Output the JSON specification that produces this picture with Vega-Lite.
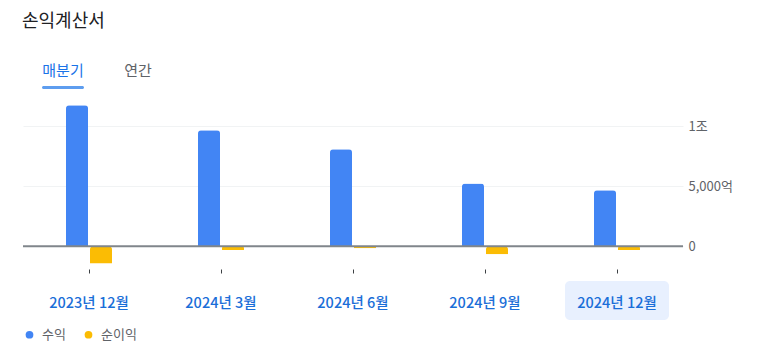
{
  "$schema": "https://vega.github.io/schema/vega-lite/v6.json",
  "background": "white",
  "padding": {"left": 22, "top": 13, "right": 0, "bottom": 0},
  "title": {
    "text": "손익계산서",
    "anchor": "start",
    "font": "Noto Sans CJK KR",
    "fontSize": 18,
    "fontWeight": "normal",
    "color": "#202124",
    "offset": 22
  },
  "config": {
    "font": "Noto Sans CJK KR",
    "view": {"stroke": null},
    "concat": {"spacing": 8}
  },
  "datasets": {
    "tabs": [
      {"tab": "매분기", "selected": true},
      {"tab": "연간", "selected": false}
    ],
    "income": [
      {"quarter": "2023년 12월", "series": "수익", "value": 11750},
      {"quarter": "2023년 12월", "series": "순이익", "value": -1450},
      {"quarter": "2024년 3월", "series": "수익", "value": 9670},
      {"quarter": "2024년 3월", "series": "순이익", "value": -310},
      {"quarter": "2024년 6월", "series": "수익", "value": 8080},
      {"quarter": "2024년 6월", "series": "순이익", "value": -170},
      {"quarter": "2024년 9월", "series": "수익", "value": 5220},
      {"quarter": "2024년 9월", "series": "순이익", "value": -670},
      {"quarter": "2024년 12월", "series": "수익", "value": 4670},
      {"quarter": "2024년 12월", "series": "순이익", "value": -310}
    ],
    "current": [
      {"quarter": "2024년 12월"}
    ],
    "baseline": [
      {"level": 0}
    ]
  },
  "vconcat": [
    {
      "width": 155,
      "height": 40,
      "data": {"name": "tabs"},
      "layer": [
        {
          "mark": {"type": "text", "fontSize": 15, "font": "Noto Sans CJK KR"},
          "encoding": {
            "x": {
              "field": "tab", "type": "nominal", "sort": null,
              "scale": {"paddingInner": 0, "paddingOuter": 0.0333},
              "axis": null
            },
            "y": {"datum": 0.55, "type": "quantitative", "scale": {"domain": [0, 1]}, "axis": null},
            "text": {"field": "tab"},
            "color": {"condition": {"test": "datum.selected", "value": "#1a73e8"}, "value": "#5f6368"}
          }
        },
        {
          "transform": [{"filter": "datum.selected"}],
          "mark": {"type": "tick", "size": 42, "thickness": 3, "color": "#1a73e8", "cornerRadius": 1.5},
          "encoding": {
            "x": {"field": "tab", "type": "nominal", "sort": null},
            "y": {"datum": 0.14, "type": "quantitative"}
          }
        }
      ]
    },
    {
      "width": 660,
      "height": 168,
      "layer": [
        {
          "data": {"name": "current"},
          "mark": {"type": "bar", "width": 104, "cornerRadius": 5, "color": "#e8f0fe", "clip": false},
          "encoding": {
            "x": {"field": "quarter", "type": "nominal", "sort": null},
            "y": {"datum": -2890, "type": "quantitative"},
            "y2": {"datum": -6140}
          }
        },
        {
          "data": {"name": "income"},
          "mark": {"type": "bar", "width": 22, "cornerRadiusEnd": 3},
          "encoding": {
            "x": {
              "field": "quarter", "type": "nominal", "sort": null,
              "scale": {
                "domain": ["2023년 12월", "2024년 3월", "2024년 6월", "2024년 9월", "2024년 12월"],
                "paddingInner": 0.6364, "paddingOuter": 0.3182
              },
              "axis": {
                "title": null,
                "domain": false,
                "ticks": true,
                "tickSize": 4,
                "tickColor": "#3c4043",
                "tickWidth": 1,
                "labelAngle": 0,
                "labelAlign": "center",
                "labelBaseline": "top",
                "labelPadding": 23,
                "labelFontSize": 14.5,
                "labelFontWeight": 500,
                "labelColor": "#1a6ed8",
                "labelFont": "Noto Sans CJK KR",
                "zindex": 1
              }
            },
            "xOffset": {
              "field": "series", "type": "nominal",
              "scale": {"domain": ["수익", "순이익"], "paddingInner": 0, "paddingOuter": 0}
            },
            "y": {
              "field": "value", "type": "quantitative",
              "scale": {"domain": [-1900, 12100], "nice": false, "zero": false},
              "axis": {
                "title": null,
                "orient": "right",
                "values": [0, 5000, 10000],
                "labelExpr": "datum.value == 10000 ? '1조' : datum.value == 5000 ? '5,000억' : '0'",
                "domain": false,
                "ticks": false,
                "grid": true,
                "labelPadding": 5,
                "labelFontSize": 13,
                "labelColor": "#5f6368",
                "labelFont": "Noto Sans CJK KR",
                "gridColor": "#f1f3f4",
                "gridWidth": 1
              }
            },
            "color": {
              "field": "series", "type": "nominal",
              "scale": {"domain": ["수익", "순이익"], "range": ["#4285f4", "#fbbc04"]},
              "legend": {
                "title": null,
                "orient": "bottom",
                "direction": "horizontal",
                "symbolType": "circle",
                "symbolSize": 60,
                "symbolStrokeWidth": 0,
                "labelFontSize": 13,
                "labelColor": "#5f6368",
                "labelFont": "Noto Sans CJK KR",
                "labelOffset": 6,
                "columnPadding": 16,
                "offset": 8
              }
            }
          }
        },
        {
          "data": {"name": "baseline"},
          "mark": {"type": "rule", "color": "#80868b", "strokeWidth": 2},
          "encoding": {"y": {"field": "level", "type": "quantitative"}}
        }
      ]
    }
  ]
}
